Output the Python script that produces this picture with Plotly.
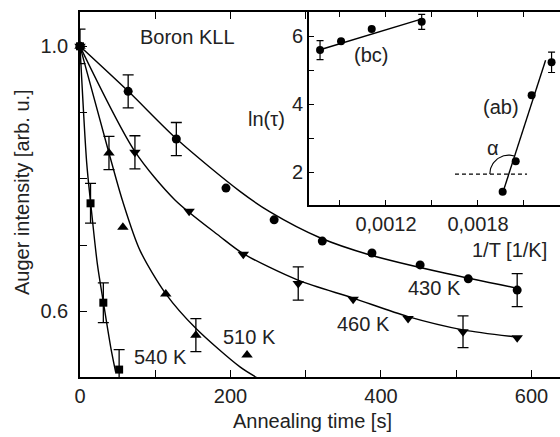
import numpy as np
import plotly.graph_objects as go

# ---------------- main data ----------------
t_430 = [0, 64, 128, 194, 258, 322, 388, 452, 516, 581]
v_430 = [1.0, 0.932, 0.860, 0.786, 0.738, 0.706, 0.688, 0.670, 0.649, 0.632]
e_430_t = [0, 64, 128, 581]
e_430_v = [1.0, 0.932, 0.860, 0.632]
e_430_e = [0.026, 0.025, 0.025, 0.025]

t_460 = [0, 73, 145, 217, 290, 363, 436, 509, 581]
v_460 = [1.0, 0.840, 0.751, 0.686, 0.642, 0.618, 0.589, 0.569, 0.560]
e_460_t = [73, 290, 509]
e_460_v = [0.840, 0.642, 0.569]
e_460_e = [0.025, 0.025, 0.024]

t_510 = [0, 38.5, 57, 114, 154, 222]
v_510 = [1.0, 0.839, 0.727, 0.626, 0.564, 0.534]
e_510_t = [38.5, 154]
e_510_v = [0.839, 0.564]
e_510_e = [0.025, 0.025]

t_540 = [0, 14, 31, 52]
v_540 = [1.0, 0.763, 0.613, 0.512]
e_540_e = [0.0, 0.030, 0.030, 0.030]

# fit curves
fit_430_t = [0, 64.2, 128.5, 212.6, 252.5, 318.9, 385.4, 487.3, 580.7]
fit_430_v = [1.0, 0.932, 0.860, 0.781, 0.750, 0.711, 0.685, 0.657, 0.635]
fit_460_t = [0, 73.1, 126.2, 186.0, 217.0, 289.7, 362.8, 435.9, 509.0, 580.7]
fit_460_v = [1.0, 0.841, 0.768, 0.713, 0.687, 0.647, 0.620, 0.592, 0.572, 0.561]
fit_510_t = [0, 38.5, 56.2, 79.7, 114.3, 154.2, 212.6, 234.8]
fit_510_v = [1.0, 0.839, 0.768, 0.692, 0.626, 0.574, 0.516, 0.500]
fit_540_t = [0, 8.9, 14.2, 23.0, 31.0, 40.8, 47.4]
fit_540_v = [1.0, 0.824, 0.763, 0.672, 0.614, 0.546, 0.508]

x_ticks = [0, 100, 200, 300, 400, 500, 600]
x_ticktext = ["0", "", "200", "", "400", "", "600"]
y_ticks = [0.6, 0.7, 0.8, 0.9, 1.0]
y_ticktext = ["0.6", "", "", "", "1.0"]

# ---------------- inset data ----------------
bc_x = [0.00077, 0.000907, 0.001107, 0.001433]
bc_y = [5.59, 5.85, 6.21, 6.42]
bc_err = [0.28, 0, 0, 0.22]
ab_x = [0.001961, 0.002046, 0.00215, 0.00228]
ab_y = [1.42, 2.32, 4.26, 5.23]
ab_err = [0, 0, 0, 0.30]
bc_fit_x = [0.00077, 0.001435]
bc_fit_y = [5.60, 6.51]
ab_fit_x = [0.001961, 0.002241]
ab_fit_y = [1.38, 5.29]
dash_x = [0.00165, 0.00212]
dash_y = [1.94, 1.94]

ix_ticks = [0.0009, 0.0012, 0.0015, 0.0018, 0.0021]
ix_ticktext = ["", "0,0012", "", "0,0018", ""]
iy_ticks = [2, 3, 4, 5, 6]
iy_ticktext = ["2", "", "4", "", "6"]

FONT = "Liberation Sans, Arial, sans-serif"
L, R, T, B = 80, 0, 12, 60
W, H = 560, 437
PW, PH = W - L - R, H - T - B

def px(x):
    return (x - L) / PW

def py(y):
    return (H - B - y) / PH

fig = go.Figure()

line = dict(color="black", width=1.4)
for tx, vy in [(fit_430_t, fit_430_v), (fit_460_t, fit_460_v),
               (fit_510_t, fit_510_v), (fit_540_t, fit_540_v)]:
    fig.add_trace(go.Scatter(x=tx, y=vy, mode="lines", line=dict(color="black", width=1.4, shape="spline", smoothing=0.8),
                             showlegend=False, hoverinfo="skip"))

def err(tx, vy, ee, w=5.5):
    fig.add_trace(go.Scatter(x=tx, y=vy, mode="markers", marker=dict(size=1, color="rgba(0,0,0,0)"),
                             error_y=dict(type="data", array=ee, visible=True, color="black", thickness=1.3, width=w),
                             showlegend=False, cliponaxis=False, hoverinfo="skip"))

err(e_430_t, e_430_v, e_430_e)
err(e_460_t, e_460_v, e_460_e)
err(e_510_t, e_510_v, e_510_e)
err(t_540, v_540, e_540_e)

fig.add_trace(go.Scatter(x=t_430, y=v_430, mode="markers", marker=dict(symbol="circle", size=9, color="black"),
                         showlegend=False, cliponaxis=False))
fig.add_trace(go.Scatter(x=t_460, y=v_460, mode="markers", marker=dict(symbol="triangle-down", size=10, color="black"),
                         showlegend=False, cliponaxis=False))
fig.add_trace(go.Scatter(x=t_510, y=v_510, mode="markers", marker=dict(symbol="triangle-up", size=10, color="black"),
                         showlegend=False, cliponaxis=False))
fig.add_trace(go.Scatter(x=t_540, y=v_540, mode="markers", marker=dict(symbol="square", size=8, color="black"),
                         showlegend=False, cliponaxis=False))

# inset
fig.add_trace(go.Scatter(x=bc_fit_x, y=bc_fit_y, xaxis="x2", yaxis="y2", mode="lines", line=line,
                         showlegend=False))
fig.add_trace(go.Scatter(x=ab_fit_x, y=ab_fit_y, xaxis="x2", yaxis="y2", mode="lines", line=line,
                         showlegend=False))
fig.add_trace(go.Scatter(x=dash_x, y=dash_y, xaxis="x2", yaxis="y2", mode="lines",
                         line=dict(color="black", width=1.2, dash="4px,3px"), showlegend=False))
# angle arc
xr, yr = [0.000698, 0.002335], [1.03, 6.71]
ppx = 0.0006 / 92.0
ppy = 1 / 34.0
xc = ab_fit_x[0] + (dash_y[0] - ab_fit_y[0]) / (ab_fit_y[1] - ab_fit_y[0]) * (ab_fit_x[1] - ab_fit_x[0])
ang0 = np.arctan2((ab_fit_y[1] - ab_fit_y[0]) / ppy, (ab_fit_x[1] - ab_fit_x[0]) / ppx)
th = np.linspace(ang0, np.pi, 30)
rad = 19
fig.add_trace(go.Scatter(x=xc + rad * np.cos(th) * ppx, y=dash_y[0] + rad * np.sin(th) * ppy, xaxis="x2", yaxis="y2",
                         mode="lines", line=dict(color="black", width=1.1), showlegend=False))

fig.add_trace(go.Scatter(x=bc_x, y=bc_y, xaxis="x2", yaxis="y2", mode="markers",
                         marker=dict(size=8, color="black"),
                         error_y=dict(type="data", array=bc_err, visible=True, color="black", thickness=1.2, width=3.5),
                         showlegend=False, cliponaxis=False))
fig.add_trace(go.Scatter(x=ab_x, y=ab_y, xaxis="x2", yaxis="y2", mode="markers",
                         marker=dict(size=8, color="black"),
                         error_y=dict(type="data", array=ab_err, visible=True, color="black", thickness=1.2, width=3.5),
                         showlegend=False, cliponaxis=False))

def axis_common(mirror):
    return dict(showline=True, linecolor="black", linewidth=1.6, mirror=mirror, ticks="inside",
                tickcolor="black", tickwidth=1.2, showgrid=False, zeroline=False,
                tickfont=dict(family=FONT, size=20, color="#222"))

fig.update_layout(
    width=W, height=H,
    margin=dict(l=L, r=R, t=T, b=B),
    paper_bgcolor="white", plot_bgcolor="white",
    xaxis=dict(range=[0, 637.9], tickvals=x_ticks, ticktext=x_ticktext, ticklen=7,
               domain=[0, 1], **axis_common("ticks")),
    yaxis=dict(range=[0.5008, 1.0518], tickvals=y_ticks, ticktext=y_ticktext, ticklen=7,
               domain=[0, 1], ticklabelstandoff=6, **axis_common(False)),
    xaxis2=dict(range=xr, tickvals=ix_ticks, ticktext=ix_ticktext, ticklen=5, anchor="y2",
                domain=[px(309), 1], **axis_common("ticks")),
    yaxis2=dict(range=yr, tickvals=iy_ticks, ticktext=iy_ticktext, ticklen=5, anchor="x2",
                domain=[py(205), 1], **axis_common(False)),
    showlegend=False,
)

ann = [
    ("Annealing time [s]", 312, 421, 0, 20),
    ("Auger intensity [arb. u.]", 22, 192, -90, 20),
    ("Boron KLL", 187, 37, 0, 20),
    ("430 K", 434, 288, 0, 20),
    ("460 K", 363, 324, 0, 20),
    ("510 K", 249, 337, 0, 20),
    ("540 K", 160, 357, 0, 20),
    ("ln(\u03c4)", 266, 119, 0, 20),
    ("1/T [1/K]", 509, 250, 0, 20),
    ("(bc)", 371, 55, 0, 20),
    ("(ab)", 501, 107, 0, 20),
    ("\u03b1", 493, 148, 0, 20),
]
for text, x, y, rot, size in ann:
    fig.add_annotation(text=text, x=px(x), y=py(y), xref="paper", yref="paper", showarrow=False,
                       textangle=rot, xanchor="center", yanchor="middle",
                       font=dict(family=FONT, size=size, color="#222"))

fig.write_html("out.html", config={"displayModeBar": False},
               post_script="document.body.style.margin='0';document.body.style.overflow='hidden';")
